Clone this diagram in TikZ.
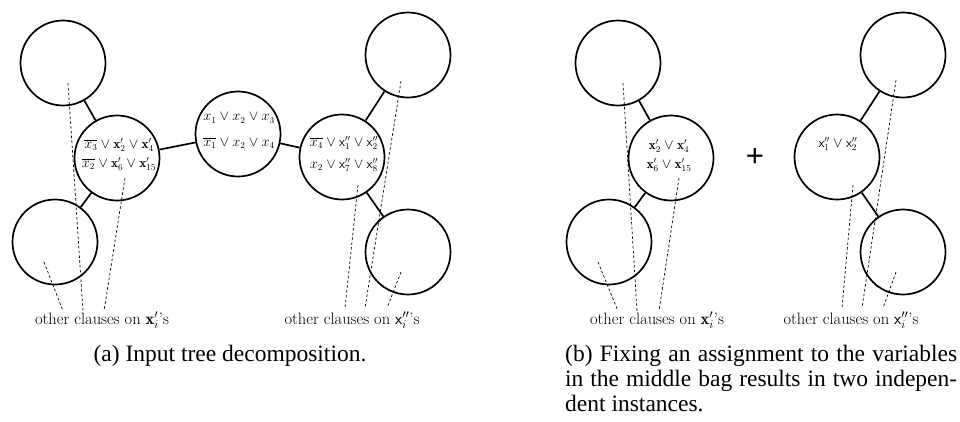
\documentclass[tikz,border=0pt]{standalone}
\usepackage{amsmath}
\usepackage{fontspec}
\newfontfamily\capfont{Liberation Serif}
\newfontfamily\plusfont{Liberation Sans}
\begin{document}
\begin{tikzpicture}[x=1pt,y=-1pt,
  bag/.style={circle,draw,line width=1.7pt,minimum size=85pt,inner sep=0pt},
  tedge/.style={line width=1.7pt},
  dline/.style={line width=0.7pt,dash pattern=on 2.6pt off 2.2pt},
  btext/.style={font=\fontsize{13.3}{16}\selectfont,inner sep=0pt},
  ltext/.style={font=\fontsize{16.5}{19}\selectfont,inner sep=0pt},
  captext/.style={font=\capfont\fontsize{23.5}{26}\selectfont,inner sep=0pt,anchor=base west}]
\useasboundingbox (0,0) rectangle (960,421);
% ---------- panel (a) ----------
\node[bag] (A) at (63,63) {};
\node[bag] (B) at (117,158) {};
\node[bag] (C) at (55,242) {};
\node[bag] (D) at (238,134) {};
\node[bag] (E) at (342,157) {};
\node[bag] (F) at (408,55) {};
\node[bag] (G) at (408,252) {};
\draw[tedge] (A) -- (B);
\draw[tedge] (B) -- (C);
\draw[tedge] (B) -- (D);
\draw[tedge] (D) -- (E);
\draw[tedge] (E) -- (F);
\draw[tedge] (E) -- (G);
\node[btext] (Bt1) at (119,145) {$\overline{x_3}\vee\mathbf{x}'_2\vee\mathbf{x}'_4$};
\node[btext] (Bt2) at (119,164) {$\overline{x_2}\vee\mathbf{x}'_6\vee\mathbf{x}'_{15}$};
\node[btext] (Dt1) at (239,118) {$x_1\vee x_2\vee x_3$};
\node[btext] (Dt2) at (239,143) {$\overline{x_1}\vee x_2\vee x_4$};
\node[btext] (Et1) at (344,143) {$\overline{x_4}\vee\mathsf{x}''_1\vee\mathsf{x}''_2$};
\node[btext] (Et2) at (344,165) {$x_2\vee\mathsf{x}''_7\vee\mathsf{x}''_8$};
\node[ltext] (La) at (102,320) {other clauses on $\mathbf{x}'_i$'s};
\node[ltext] (Ra) at (352,320) {other clauses on $\mathsf{x}''_i$'s};
\coordinate (a1s) at (68,83);  \coordinate (a1e) at (83,311);
\coordinate (a2s) at (125,178); \coordinate (a2e) at (104,311);
\coordinate (a3s) at (44,262);  \coordinate (a3e) at (63,311);
\draw[dline] (a1s) -- (a1e);
\draw[dline] (a2s) -- (a2e);
\draw[dline] (a3s) -- (a3e);
\coordinate (r1s) at (358,185); \coordinate (r1e) at (345,308);
\coordinate (r2s) at (401,81);  \coordinate (r2e) at (365,308);
\coordinate (r3s) at (401,272); \coordinate (r3e) at (387,308);
\draw[dline] (r1s) -- (r1e);
\draw[dline] (r2s) -- (r2e);
\draw[dline] (r3s) -- (r3e);
\node[captext,anchor=base] (capa) at (230,361) {(a) Input tree decomposition.};
% ---------- panel (b) ----------
\node[bag] (H) at (618,63) {};
\node[bag] (I) at (671,158) {};
\node[bag] (J) at (609,242) {};
\node[bag] (K) at (837,157) {};
\node[bag] (L) at (903,55) {};
\node[bag] (M) at (903,252) {};
\draw[tedge] (H) -- (I);
\draw[tedge] (I) -- (J);
\draw[tedge] (K) -- (L);
\draw[tedge] (K) -- (M);
\node[btext] (It1) at (669,146) {$\mathbf{x}'_2\vee\mathbf{x}'_4$};
\node[btext] (It2) at (669,165) {$\mathbf{x}'_6\vee\mathbf{x}'_{15}$};
\node[btext] (Kt1) at (838,144) {$\mathsf{x}''_1\vee\mathsf{x}''_2$};
\node[font=\plusfont\fontsize{31}{33}\selectfont,inner sep=0pt] (plus) at (755,158) {+};
\node[ltext] (Lb) at (657,320) {other clauses on $\mathbf{x}'_i$'s};
\node[ltext] (Rb) at (851,320) {other clauses on $\mathsf{x}''_i$'s};
\coordinate (b1s) at (623,83);  \coordinate (b1e) at (637,311);
\coordinate (b2s) at (679,178); \coordinate (b2e) at (659,311);
\coordinate (b3s) at (598,262); \coordinate (b3e) at (618,311);
\draw[dline] (b1s) -- (b1e);
\draw[dline] (b2s) -- (b2e);
\draw[dline] (b3s) -- (b3e);
\coordinate (s1s) at (853,185); \coordinate (s1e) at (842,308);
\coordinate (s2s) at (896,80);  \coordinate (s2e) at (862,308);
\coordinate (s3s) at (896,272); \coordinate (s3e) at (883,308);
\draw[dline] (s1s) -- (s1e);
\draw[dline] (s2s) -- (s2e);
\draw[dline] (s3s) -- (s3e);
\node[captext] (capb1) at (565,361) {\makebox[392pt][s]{(b) Fixing an assignment to the variables}};
\node[captext] (capb2) at (565,386) {\makebox[392pt][s]{in the middle bag results in two indepen-}};
\node[captext] (capb3) at (565,411) {dent instances.};
\end{tikzpicture}
\end{document}
